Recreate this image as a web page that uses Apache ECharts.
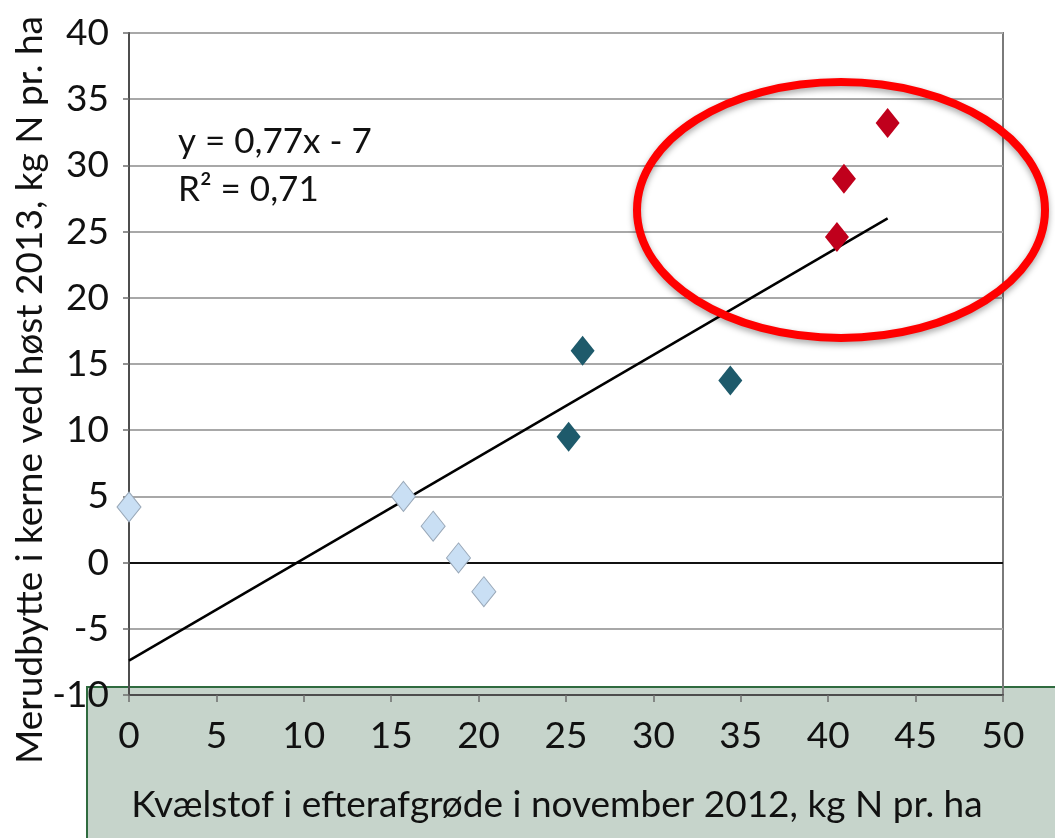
<!DOCTYPE html>
<html>
<head>
<meta charset="utf-8">
<script src="https://cdn.jsdelivr.net/npm/echarts@6/dist/echarts.min.js"></script>
<style>
html,body{margin:0;padding:0;background:#fff;}
#chart{width:1055px;height:838px;}
</style>
</head>
<body>
<div id="chart"></div>
<script>
// Data
const lightX = [0, 15.7, 17.4, 18.85, 20.3];
const lightY = [4.2, 5.0, 2.75, 0.35, -2.2];
const darkX = [25.15, 25.95, 34.4];
const darkY = [9.5, 16.0, 13.75];
const redX = [40.5, 40.9, 43.4];
const redY = [24.6, 29.0, 33.2];
const trendX = [0, 43.4];
const trendY = [-7.4, 26.0];
const yTickValues = [-10, -5, 0, 5, 10, 15, 20, 25, 30, 35, 40];
const xTickValues = [0, 5, 10, 15, 20, 25, 30, 35, 40, 45, 50];
const xTitle = 'Kvælstof i efterafgrøde i november 2012, kg N pr. ha';
const yTitle = 'Merudbytte i kerne ved høst 2013, kg N pr. ha';
const eqText = 'y = 0,77x - 7';
const r2Text = 'R² = 0,71';

const FONT = 'Lato, "Open Sans", sans-serif';
const zip = (a, b) => a.map((v, i) => [v, b[i]]);
const splitColors = yTickValues.map(v => v === 0 ? '#111111' : '#a8a8a8');

const chart = echarts.init(document.getElementById('chart'), null, {renderer: 'canvas'});
chart.setOption({
  animation: false,
  backgroundColor: '#ffffff',
  grid: {left: 129, top: 33, right: 52, bottom: 143, show: true, borderColor: '#7a7a7a', borderWidth: 2, backgroundColor: 'transparent'},
  xAxis: {
    type: 'value', min: xTickValues[0], max: xTickValues[xTickValues.length - 1], interval: 5,
    axisLine: {show: true, onZero: false, lineStyle: {color: '#4d4d4d', width: 2}},
    axisTick: {show: true, length: 7, lineStyle: {color: '#6e6e6e', width: 1.5}},
    axisLabel: {fontSize: 37, color: '#111', fontFamily: FONT, margin: 23},
    splitLine: {show: false}
  },
  yAxis: {
    type: 'value', min: yTickValues[0], max: yTickValues[yTickValues.length - 1], interval: 5,
    axisLine: {show: true, onZero: false, lineStyle: {color: '#4d4d4d', width: 2}},
    axisTick: {show: true, length: 6, lineStyle: {color: '#6e6e6e', width: 1.5}},
    axisLabel: {fontSize: 37, color: '#111', fontFamily: FONT, margin: 20},
    splitLine: {show: true, lineStyle: {color: splitColors, width: 2}}
  },
  series: [
    {type: 'line', data: zip(trendX, trendY), symbol: 'none', lineStyle: {color: '#000', width: 2.5}, z: 2, silent: true},
    {type: 'scatter', data: zip(lightX, lightY), symbol: 'diamond', symbolSize: [24, 30],
     itemStyle: {color: '#c9dff4', borderColor: '#99a8b8', borderWidth: 1, opacity: 1}, z: 3},
    {type: 'scatter', data: zip(darkX, darkY), symbol: 'diamond', symbolSize: [24, 30],
     itemStyle: {color: '#1e5a6b', opacity: 1}, z: 3},
    {type: 'scatter', data: zip(redX, redY), symbol: 'diamond', symbolSize: [24, 30],
     itemStyle: {color: '#c0001c', opacity: 1}, z: 3}
  ],
  graphic: [
    {type: 'rect', z: -1, shape: {x: 87, y: 687, width: 975, height: 160},
     style: {fill: '#c6d4cb', stroke: '#2f6b3f', lineWidth: 2}},
    {type: 'text', z: 50, x: 557, y: 805,
     style: {text: xTitle, font: '37px ' + FONT, fill: '#111', align: 'center', verticalAlign: 'middle'}},
    {type: 'text', z: 50, x: 30, y: 390, rotation: Math.PI / 2,
     style: {text: yTitle, font: '37px ' + FONT, fill: '#111', align: 'center', verticalAlign: 'middle'}},
    {type: 'text', z: 50, x: 178, y: 142,
     style: {text: eqText, font: '35px ' + FONT, fill: '#111', align: 'left', verticalAlign: 'middle'}},
    {type: 'text', z: 50, x: 178, y: 190,
     style: {text: r2Text, font: '35px ' + FONT, fill: '#111', align: 'left', verticalAlign: 'middle'}},
    {type: 'ellipse', z: 100, shape: {cx: 841, cy: 210, rx: 204, ry: 128},
     style: {fill: 'none', stroke: '#ff0000', lineWidth: 8, shadowBlur: 6, shadowColor: 'rgba(0,0,0,0.35)', shadowOffsetY: 3}}
  ]
});
</script>
</body>
</html>
